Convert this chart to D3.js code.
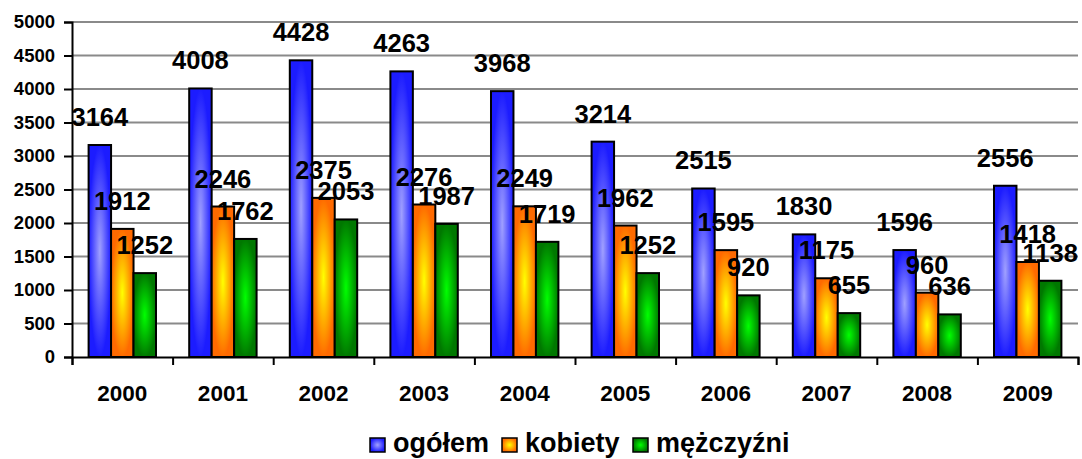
<!DOCTYPE html>
<html lang="pl">

<head>
    <meta charset="utf-8">
    <title>Bezrobotni 2000-2009</title>
    <style>
        body { margin: 0; background: #fff; }
        svg text { font-family: "Liberation Sans", Arial, sans-serif; font-weight: bold; fill: #000; }
    </style>
</head>

<body>
    <script src="https://cdn.jsdelivr.net/npm/d3@7"></script>
    <script>
        // data
        var years = ["2000", "2001", "2002", "2003", "2004", "2005", "2006", "2007", "2008", "2009"];
        var ogolem = [3164, 4008, 4428, 4263, 3968, 3214, 2515, 1830, 1596, 2556];
        var kobiety = [1912, 2246, 2375, 2276, 2249, 1962, 1595, 1175, 960, 1418];
        var mezczyzni = [1252, 1762, 2053, 1987, 1719, 1252, 920, 655, 636, 1138];
        var yTicks = [0, 500, 1000, 1500, 2000, 2500, 3000, 3500, 4000, 4500, 5000];
        var seriesNames = ["ogółem", "kobiety", "mężczyźni"];

        var w = 1082, h = 459;
        var plotLeft = 72, plotRight = 1078, plotTop = 22, plotBottom = 357;

        // edge colour, centre colour for each series
        var colors = [["#1c1cff", "#a0a0ff"], ["#ff6a00", "#ffff00"], ["#007800", "#00ff00"]];

        var svg = d3.select("body").append("svg")
            .attr("width", w)
            .attr("height", h);

        var defs = svg.append("defs");
        colors.forEach(function(c, i) {
            var g = defs.append("radialGradient")
                .attr("id", "grad" + i)
                .attr("cx", "50%").attr("cy", "50%").attr("r", "50%");
            g.append("stop").attr("offset", "0%").attr("stop-color", c[1]);
            g.append("stop").attr("offset", "100%").attr("stop-color", c[0]);
        });

        //scales
        var x = d3.scaleBand()
            .domain(years)
            .range([plotLeft, plotRight])
            .paddingInner(0.33)
            .paddingOuter(0.165);
        var xs = d3.scaleBand()
            .domain(d3.range(3))
            .range([0, x.bandwidth()]);
        var y = d3.scaleLinear()
            .domain([0, 5000])
            .range([plotBottom, plotTop]);

        //gridlines
        svg.append("g")
            .selectAll("line")
            .data(yTicks.slice(1))
            .enter()
            .append("line")
            .attr("x1", plotLeft).attr("x2", plotRight)
            .attr("y1", function(d) { return y(d); })
            .attr("y2", function(d) { return y(d); })
            .attr("stroke", "#8a8a8a")
            .attr("stroke-width", 2);

        //bars
        var series = [ogolem, kobiety, mezczyzni];
        var groups = svg.selectAll("g.year")
            .data(years)
            .enter()
            .append("g")
            .attr("class", "year")
            .attr("transform", function(d) { return "translate(" + x(d) + ",0)"; });

        groups.selectAll("rect")
            .data(function(d, i) { return series.map(function(s, k) { return { k: k, v: s[i] }; }); })
            .enter()
            .append("rect")
            .attr("x", function(d) { return xs(d.k); })
            .attr("y", function(d) { return y(d.v); })
            .attr("width", xs.bandwidth())
            .attr("height", function(d) { return plotBottom - y(d.v); })
            .attr("fill", function(d) { return "url(#grad" + d.k + ")"; })
            .attr("stroke", "#000")
            .attr("stroke-width", 2);

        //axes
        var yAxis = d3.axisLeft(y)
            .tickValues(yTicks)
            .tickFormat(d3.format("d"))
            .tickSize(8)
            .tickPadding(9);
        var gy = svg.append("g")
            .attr("transform", "translate(" + plotLeft + ",0)")
            .call(yAxis);
        gy.selectAll("text").style("font-size", "18.5px");

        var xBounds = d3.scaleLinear().domain([0, years.length]).range([plotLeft, plotRight]);
        svg.append("g")
            .attr("transform", "translate(0," + plotBottom + ")")
            .call(d3.axisBottom(xBounds).ticks(years.length).tickSize(8).tickFormat(""));

        var gx = svg.append("g")
            .attr("transform", "translate(0," + plotBottom + ")")
            .call(d3.axisBottom(x).tickSize(0).tickPadding(28));
        gx.select(".domain").remove();
        gx.selectAll("text").style("font-size", "22.5px");

        svg.selectAll(".domain, .tick line")
            .attr("stroke", "#000")
            .attr("stroke-width", 2);

        //value labels
        groups.selectAll("text.val")
            .data(function(d, i) { return series.map(function(s, k) { return { k: k, v: s[i] }; }); })
            .enter()
            .append("text")
            .attr("class", "val")
            .attr("x", function(d) { return xs(d.k) + xs.bandwidth() / 2; })
            .attr("y", function(d) { return y(d.v) - 19; })
            .attr("text-anchor", "middle")
            .style("font-size", "25.5px")
            .text(function(d) { return d.v; });

        //legend
        var legendX = [370, 502, 633];
        var legend = svg.selectAll("g.legend")
            .data(seriesNames)
            .enter()
            .append("g")
            .attr("class", "legend")
            .attr("transform", function(d, i) { return "translate(" + legendX[i] + ",438)"; });
        legend.append("rect")
            .attr("width", 15).attr("height", 14)
            .attr("fill", function(d, i) { return "url(#grad" + i + ")"; })
            .attr("stroke", "#000")
            .attr("stroke-width", 1.5);
        legend.append("text")
            .attr("x", 23)
            .attr("y", 14)
            .style("font-size", "27px")
            .text(function(d) { return d; });
    </script>
</body>

</html>
